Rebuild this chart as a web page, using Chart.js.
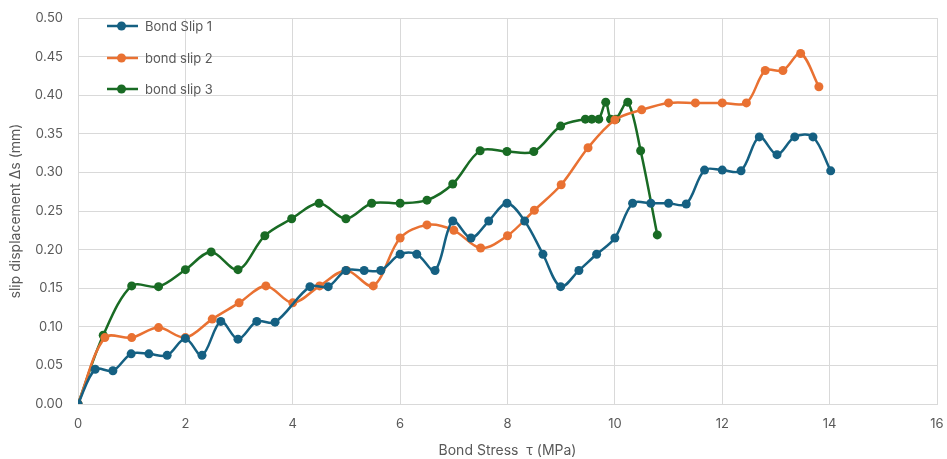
<!DOCTYPE html>
<html>
<head>
<meta charset="utf-8">
<script src="https://cdn.jsdelivr.net/npm/chart.js@4"></script>
<style>
  html, body { margin: 0; padding: 0; background: #fff; }
  #wrap { width: 947px; height: 459px; }
</style>
</head>
<body>
<div id="wrap"><canvas id="chart" width="947" height="459"></canvas></div>
<script>
// 데이터
const seriesNames = ["Bond Slip 1", "bond slip 2", "bond slip 3"];

const slip1X = [0, 0.32, 0.65, 0.99, 1.32, 1.66, 2.0, 2.31, 2.66, 2.98, 3.33, 3.67, 4.32, 4.66, 4.99, 5.33, 5.64, 6.0, 6.31, 6.65, 6.98, 7.32, 7.65, 7.99, 8.32, 8.66, 8.99, 9.33, 9.66, 10.0, 10.33, 10.67, 11.0, 11.33, 11.67, 12.0, 12.35, 12.69, 13.02, 13.35, 13.69, 14.02];
const slip1Y = [0, 0.045, 0.043, 0.065, 0.065, 0.063, 0.085, 0.063, 0.107, 0.084, 0.107, 0.106, 0.152, 0.152, 0.173, 0.173, 0.173, 0.194, 0.194, 0.173, 0.237, 0.215, 0.237, 0.26, 0.237, 0.194, 0.152, 0.173, 0.194, 0.215, 0.26, 0.26, 0.26, 0.259, 0.303, 0.303, 0.302, 0.346, 0.323, 0.346, 0.346, 0.302];

const slip2X = [0, 0.5, 1.0, 1.5, 2.0, 2.5, 3.0, 3.5, 4.0, 4.5, 5.0, 5.5, 6.0, 6.5, 7.0, 7.5, 8.0, 8.5, 9.0, 9.5, 10.0, 10.5, 11.0, 11.5, 12.0, 12.45, 12.8, 13.13, 13.46, 13.8];
const slip2Y = [0, 0.086, 0.086, 0.099, 0.086, 0.11, 0.131, 0.153, 0.131, 0.153, 0.173, 0.153, 0.215, 0.232, 0.225, 0.202, 0.218, 0.251, 0.284, 0.332, 0.368, 0.381, 0.39, 0.39, 0.39, 0.39, 0.432, 0.432, 0.454, 0.411];

const slip3X = [0, 0.47, 1.0, 1.5, 2.0, 2.48, 2.98, 3.48, 3.98, 4.49, 4.99, 5.47, 6.0, 6.5, 6.98, 7.49, 7.99, 8.49, 8.99, 9.45, 9.57, 9.7, 9.83, 9.92, 10.02, 10.24, 10.48, 10.79];
const slip3Y = [0, 0.089, 0.153, 0.152, 0.174, 0.197, 0.174, 0.218, 0.24, 0.26, 0.24, 0.26, 0.26, 0.264, 0.285, 0.328, 0.327, 0.327, 0.36, 0.369, 0.369, 0.369, 0.391, 0.369, 0.369, 0.391, 0.328, 0.219];

const seriesColors = ["#156082", "#E97132", "#196B24"];
const textColor = "#595959";
const gridColor = "#d9d9d9";
const fontFamily = "Inter, 'Open Sans', sans-serif";

function toPoints(xs, ys) {
  return xs.map((x, i) => ({ x: x, y: ys[i] }));
}

const seriesData = [toPoints(slip1X, slip1Y), toPoints(slip2X, slip2Y), toPoints(slip3X, slip3Y)];

// 플롯 안쪽 범례 그리기
const insideLegend = {
  id: "insideLegend",
  afterDraw(chart) {
    const ctx = chart.ctx;
    const x0 = 107, x1 = 138, tx = 145;
    const rows = [26, 58, 89];
    chart.data.datasets.forEach((ds, i) => {
      const y = rows[i];
      ctx.save();
      ctx.strokeStyle = ds.borderColor;
      ctx.lineWidth = 2.5;
      ctx.beginPath();
      ctx.moveTo(x0, y);
      ctx.lineTo(x1, y);
      ctx.stroke();
      ctx.fillStyle = ds.borderColor;
      ctx.beginPath();
      ctx.arc((x0 + x1) / 2 - 1, y, 4.5, 0, Math.PI * 2);
      ctx.fill();
      ctx.fillStyle = textColor;
      ctx.font = "13px " + fontFamily;
      ctx.textBaseline = "middle";
      ctx.fillText(ds.label, tx, y + 1);
      ctx.restore();
    });
  }
};

const datasets = seriesNames.map((name, i) => ({
  label: name,
  data: seriesData[i],
  borderColor: seriesColors[i],
  backgroundColor: seriesColors[i],
  borderWidth: 2.5,
  pointRadius: 4.5,
  pointHoverRadius: 4.5,
  pointBorderWidth: 0,
  tension: 0.33,
  fill: false
}));

new Chart(document.getElementById("chart"), {
  type: "line",
  data: { datasets: datasets },
  plugins: [insideLegend],
  options: {
    responsive: false,
    animation: false,
    devicePixelRatio: 1,
    layout: { padding: { top: 18, right: 10, left: 0, bottom: 0 } },
    plugins: {
      legend: { display: false },
      tooltip: { enabled: false }
    },
    scales: {
      x: {
        type: "linear",
        min: 0,
        max: 16,
        ticks: {
          stepSize: 2,
          color: textColor,
          font: { family: fontFamily, size: 13 },
          padding: 12
        },
        grid: { color: gridColor, lineWidth: 1, drawTicks: false },
        border: { color: gridColor },
        title: {
          display: true,
          text: "Bond Stress  τ (MPa)",
          color: textColor,
          font: { family: fontFamily, size: 14 },
          padding: { top: 6, bottom: 0 }
        },
        afterFit(scale) {
          scale.height = 55;
          scale.paddingLeft = 0;
          scale.paddingRight = 0;
        }
      },
      y: {
        min: 0,
        max: 0.5,
        ticks: {
          stepSize: 0.05,
          color: textColor,
          font: { family: fontFamily, size: 13 },
          padding: 15,
          callback: (v) => v.toFixed(2)
        },
        grid: { color: gridColor, lineWidth: 1, drawTicks: false },
        border: { color: gridColor },
        title: {
          display: true,
          text: "slip displacement Δs (mm)",
          color: textColor,
          font: { family: fontFamily, size: 14 },
          padding: { top: 7, bottom: 4 }
        },
        afterFit(scale) {
          scale.width = 78;
          scale.paddingTop = 0;
          scale.paddingBottom = 0;
        }
      }
    }
  }
});
</script>
</body>
</html>
